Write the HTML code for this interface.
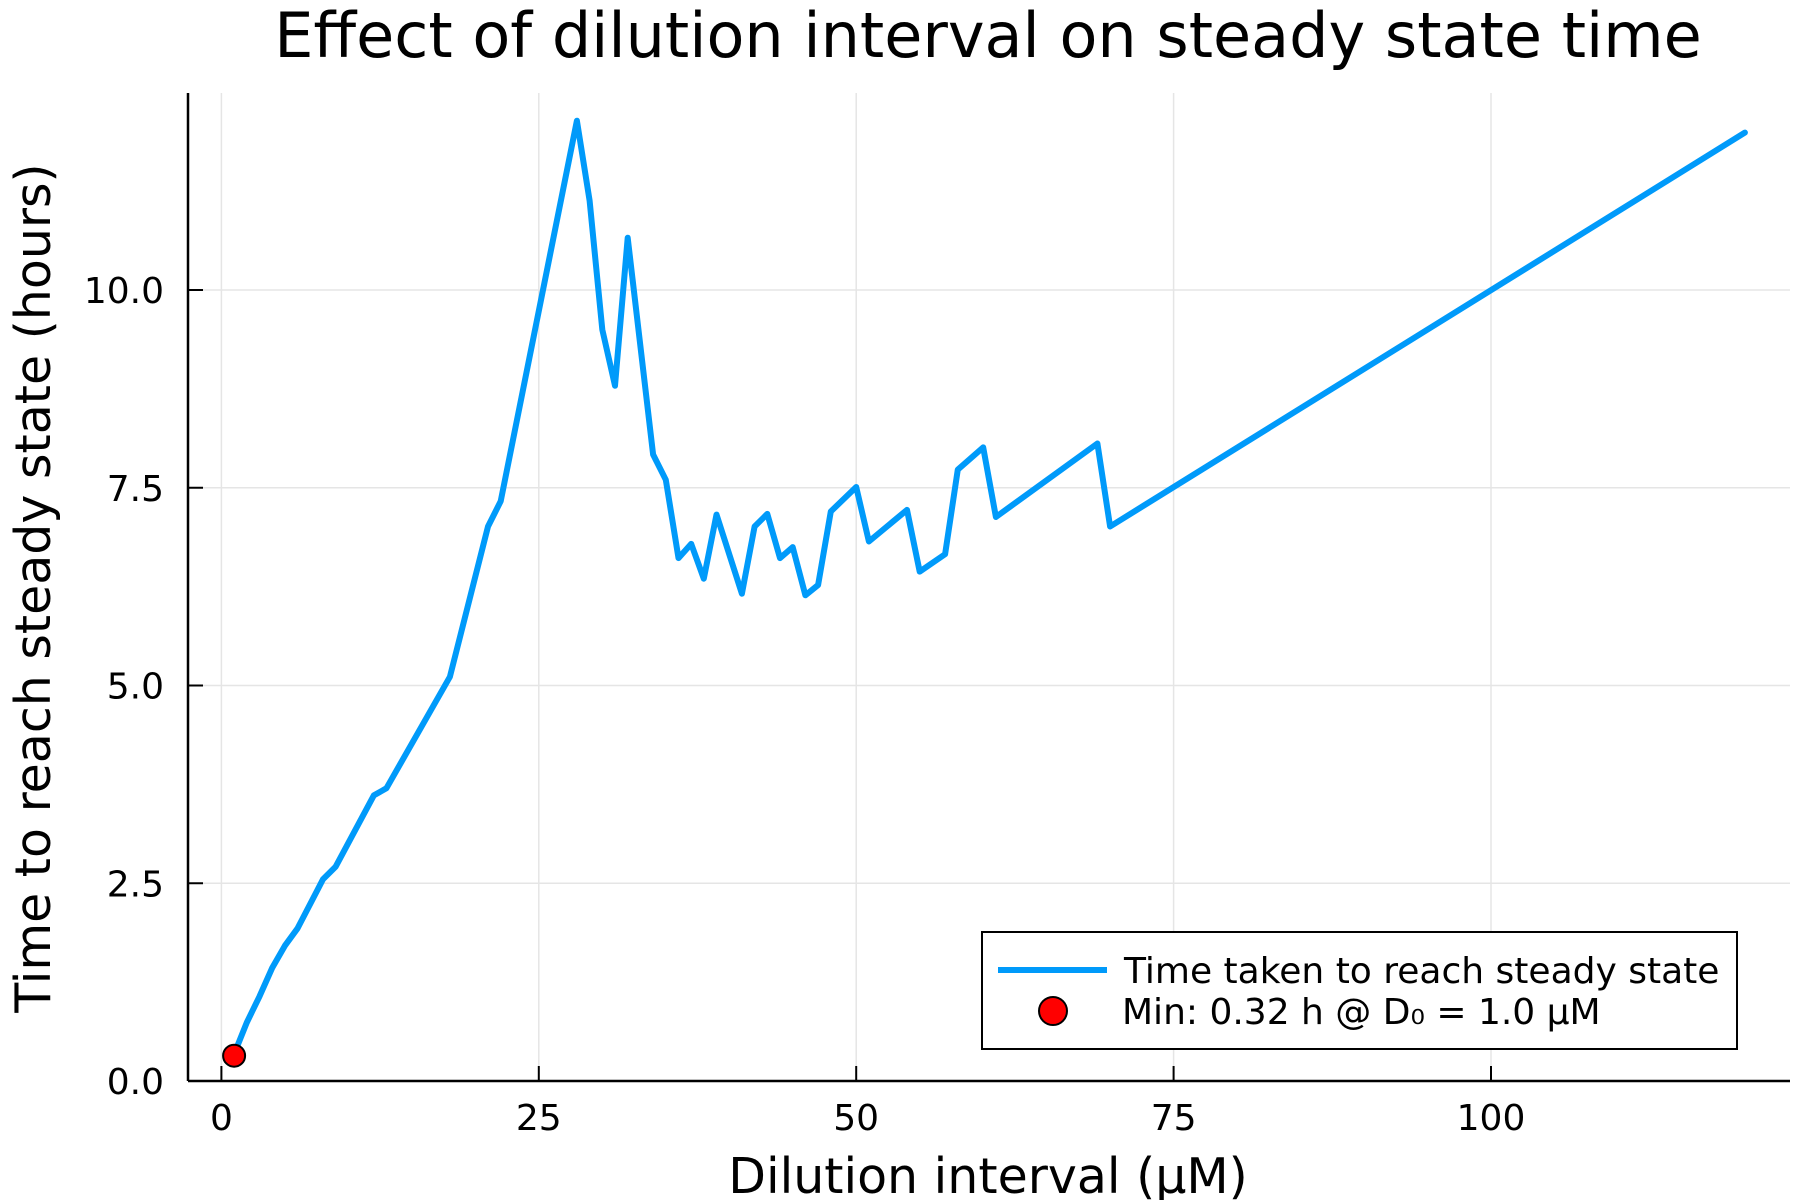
<!DOCTYPE html>
<html><head><meta charset="utf-8"><style>
html,body{margin:0;padding:0;background:#fff;}
svg{display:block;font-family:"DejaVu Sans","Liberation Sans",sans-serif;}
</style></head><body>
<svg id="chart" width="1800" height="1200" viewBox="0 0 1800 1200" xmlns="http://www.w3.org/2000/svg">
<rect width="1800" height="1200" fill="#fff"/>
<text x="988" y="57" font-size="62" text-anchor="middle">Effect of dilution interval on steady state time</text>
<g id="grid"></g>
<g id="axes"></g>
<g id="series"></g>
<text x="988" y="1193" font-size="49" text-anchor="middle">Dilution interval (μM)</text>
<text transform="translate(50,588) rotate(-90)" font-size="49" text-anchor="middle">Time to reach steady state (hours)</text>
<g>
<rect x="982" y="932" width="755" height="117" fill="#fff" stroke="#000" stroke-width="2"/>
<line x1="998" y1="970" x2="1107" y2="970" stroke="#009AFA" stroke-width="6"/>
<text x="1124" y="983" font-size="36">Time taken to reach steady state</text>
<circle cx="1053" cy="1011" r="14" fill="#ff0000" stroke="#000" stroke-width="2"/>
<text x="1122" y="1024" font-size="36">Min: 0.32 h @ D₀ = 1.0 μM</text>
</g>
</svg>
<script>
const xValues = [1,2,3,4,5,6,8,9,12,13,18,21,22,28,29,30,31,32,34,35,36,37,38,39,41,42,43,44,45,46,47,48,50,51,54,55,57,58,60,61,69,70,120];
const yValues = [0.34,0.74,1.07,1.43,1.71,1.93,2.55,2.71,3.61,3.70,5.11,7.01,7.33,12.14,11.13,9.5,8.79,10.66,7.92,7.6,6.61,6.79,6.35,7.16,6.16,7.01,7.17,6.61,6.75,6.14,6.27,7.2,7.51,6.82,7.22,6.44,6.66,7.73,8.01,7.13,8.06,7.01,11.99];
const minPoint = [1.0, 0.32];
const xTicks = [0,25,50,75,100];
const xTickLabels = ["0","25","50","75","100"];
const yTicks = [0,2.5,5,7.5,10];
const yTickLabels = ["0.0","2.5","5.0","7.5","10.0"];

const NS="http://www.w3.org/2000/svg";
const X0=221.4, XS=12.696, Y0=1081, YS=79.1;
const L=188, R=1790, T=93, B=1081;
function sx(v){return X0+v*XS;}
function sy(v){return Y0-v*YS;}
function mk(tag,attrs,parent){const e=document.createElementNS(NS,tag);for(const k in attrs)e.setAttribute(k,attrs[k]);parent.appendChild(e);return e;}
const grid=document.getElementById('grid'), axes=document.getElementById('axes'), series=document.getElementById('series');
xTicks.forEach((t,i)=>{
  const g=mk('line',{x1:sx(t),x2:sx(t),y1:T,y2:B,stroke:'#e5e5e5','stroke-width':1.5},grid);
  
  
  const tk=mk('line',{x1:sx(t),x2:sx(t),y1:B,y2:B-15,stroke:'#000','stroke-width':2},axes);
  
  
  const tx=mk('text',{x:sx(t),y:1130,'font-size':36,'text-anchor':'middle'},axes);
  tx.textContent=xTickLabels[i];
  
  
});
yTicks.forEach((t,i)=>{
  const g=mk('line',{x1:L,x2:R,y1:sy(t),y2:sy(t),stroke:'#e5e5e5','stroke-width':1.5},grid);
  
  
  const tk=mk('line',{x1:L,x2:L+15,y1:sy(t),y2:sy(t),stroke:'#000','stroke-width':2},axes);
  
  
  const tx=mk('text',{x:164,y:sy(t)+13,'font-size':36,'text-anchor':'end'},axes);
  tx.textContent=yTickLabels[i];
  
  
});
const xa=mk('line',{x1:L,x2:R,y1:B,y2:B,stroke:'#000','stroke-width':2.5},axes);


const ya=mk('line',{x1:L,x2:L,y1:T,y2:B,stroke:'#000','stroke-width':2.5},axes);


const pts=xValues.map((x,i)=>sx(x).toFixed(1)+','+sy(yValues[i]).toFixed(1)).join(' ');
const pl=mk('polyline',{points:pts,fill:'none',stroke:'#009AFA','stroke-width':6,'stroke-linejoin':'round','stroke-linecap':'round'},series);


const c=mk('circle',{cx:sx(minPoint[0]),cy:sy(minPoint[1]),r:11,fill:'#ff0000',stroke:'#000','stroke-width':2},series);


</script>
</body></html>
